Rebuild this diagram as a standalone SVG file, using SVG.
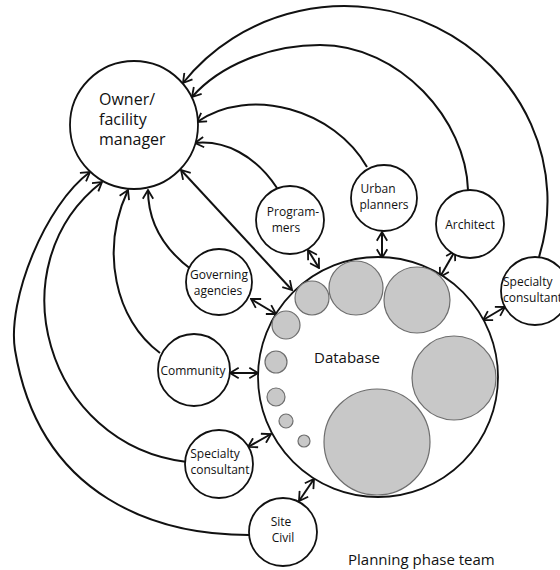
<svg xmlns="http://www.w3.org/2000/svg" width="560" height="570" viewBox="0 0 560 570">
<defs>
<style>
.node{fill:#fff;stroke:#111;stroke-width:1.8}
.cell{fill:#c8c8c8;stroke:#6e6e6e;stroke-width:1.2}
.t{font-family:"Open Sans","Noto Sans","DejaVu Sans",sans-serif;font-size:12px;fill:#111;text-anchor:middle}
.big{font-size:16px;text-anchor:start}
.db{font-size:15px}
.c{fill:none;stroke:#111;stroke-width:2}
.one{marker-end:url(#ah)}
.two{marker-start:url(#ah);marker-end:url(#ah)}
</style>
<marker id="ah" viewBox="0 0 12 12" refX="11.2" refY="6" markerWidth="12" markerHeight="12" markerUnits="userSpaceOnUse" orient="auto-start-reverse">
<path d="M2.5,0.8 L11.2,6 L2.5,11.2" fill="none" stroke="#111" stroke-width="1.8"/>
</marker>
</defs>
<rect width="560" height="570" fill="#fff"/>

<g id="connectors">
<path class="c one" d="M539,257 A203,195 0 0 0 183,83"/>
<path class="c one" d="M468,190 C466,120 400,45 320,45 C270,45 220,65 192,97"/>
<path class="c one" d="M367,167 C335,110 250,85 197,122"/>
<path class="c one" d="M277,188 C255,155 225,140 195,143"/>
<path class="c one" d="M192,270 C165,250 148,225 148,190"/>
<path class="c one" d="M160,353 C115,320 100,250 128,190"/>
<path class="c one" d="M187,462 C45,445 -5,265 102,182"/>
<path class="c one" d="M249,535 C160,535 40,500 15,350 C7,300 45,205 90,172"/>
<path class="c two" d="M292,290 L181,170"/>
<path class="c two" d="M308,250 L319,268"/>
<path class="c two" d="M382,232 L382,258"/>
<path class="c two" d="M455,251 L440,277"/>
<path class="c two" d="M505,307 L483,320"/>
<path class="c two" d="M251,299 L276,314"/>
<path class="c two" d="M230,373 L258,373"/>
<path class="c two" d="M248,447 L271,434"/>
<path class="c two" d="M299,501 L314,479"/>
</g>

<g id="owner">
<circle class="node" cx="134" cy="125" r="64"/>
<text class="t big" x="99" y="105">Owner/</text>
<text class="t big" x="99" y="125">facility</text>
<text class="t big" x="99" y="145">manager</text>
</g>

<g id="database">
<circle class="node" cx="378" cy="377" r="120"/>
<circle class="cell" cx="312" cy="298" r="17"/>
<circle class="cell" cx="356" cy="288" r="27"/>
<circle class="cell" cx="417" cy="300" r="33"/>
<circle class="cell" cx="454" cy="378" r="42"/>
<circle class="cell" cx="377" cy="442" r="53"/>
<circle class="cell" cx="286" cy="325" r="14"/>
<circle class="cell" cx="276" cy="362" r="11"/>
<circle class="cell" cx="276" cy="397" r="9"/>
<circle class="cell" cx="286" cy="421" r="7"/>
<circle class="cell" cx="304" cy="441" r="6"/>
<text class="t db" x="347" y="363">Database</text>
</g>

<g id="programmers">
<circle class="node" cx="290" cy="220" r="34"/>
<text class="t" x="293" y="216">Program-</text>
<text class="t" x="286" y="232">mers</text>
</g>

<g id="urban-planners">
<circle class="node" cx="384" cy="198" r="33"/>
<text class="t" x="378" y="193">Urban</text>
<text class="t" x="384" y="209">planners</text>
</g>

<g id="architect">
<circle class="node" cx="470" cy="224" r="34"/>
<text class="t" x="470" y="229">Architect</text>
</g>

<g id="specialty-consultant-right">
<circle class="node" cx="535" cy="291" r="34"/>
<text class="t" x="503" y="286" style="text-anchor:start">Specialty</text>
<text class="t" x="503" y="302" style="text-anchor:start">consultant</text>
</g>

<g id="governing-agencies">
<circle class="node" cx="219" cy="282" r="33"/>
<text class="t" x="219" y="279">Governing</text>
<text class="t" x="218" y="295">agencies</text>
</g>

<g id="community">
<circle class="node" cx="194" cy="370" r="36"/>
<text class="t" x="193" y="375">Community</text>
</g>

<g id="specialty-consultant-left">
<circle class="node" cx="219" cy="464" r="34"/>
<text class="t" x="215" y="458">Specialty</text>
<text class="t" x="220" y="474">consultant</text>
</g>

<g id="site-civil">
<circle class="node" cx="283" cy="532" r="34"/>
<text class="t" x="281" y="526">Site</text>
<text class="t" x="283" y="542">Civil</text>
</g>

<text class="t big" x="348" y="565" style="font-size:15px">Planning phase team</text>
</svg>
